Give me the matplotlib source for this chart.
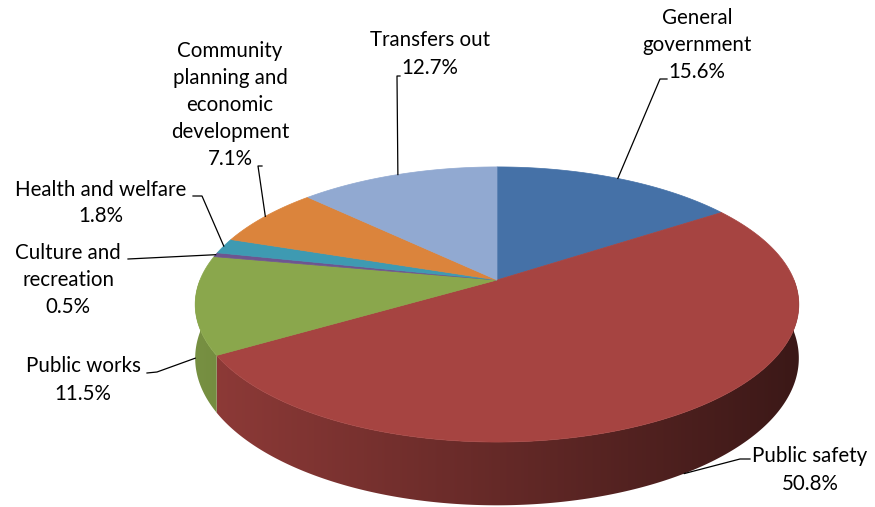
import numpy as np
import matplotlib.pyplot as plt
from matplotlib.patches import Polygon
from matplotlib.colors import to_rgb

# ---- data ----
categories = ['General\ngovernment', 'Public safety', 'Public works',
              'Culture and\nrecreation', 'Health and welfare',
              'Community\nplanning and\neconomic\ndevelopment', 'Transfers out']
shares = [15.6, 50.8, 11.5, 0.5, 1.8, 7.1, 12.7]
colors = ['#4571A7', '#A64441', '#8AA74C', '#6E5590', '#3E9AB2', '#DB843C', '#91A9D1']

# ---- layout (pixel space of the 875x507 canvas) ----
label_pos = [(697, 45), (810, 470), (83, 380), (68, 280), (101, 203), (230, 105), (430, 54)]
leader_start = [[(667, 79), (660, 79)], [(750, 459), (740, 459)], [(147, 373), (157, 372)],
                [(128, 259)], [(193, 196), (202, 196)], [(262, 166), (258, 166)],
                [(400, 76), (397, 76)]]
anchor_depth = [0, 1.0, 1.0, 0, 0, 0, 0]

CX, CY, RX, RY, K, H = 497, 280, 297, 133.2, 0.178, 52
LINE_STEP = 27


def proj(theta, d=0.0):
    # fake perspective: far side of the disc is drawn smaller
    t = np.radians(theta)
    s = 1 / (1 + K * np.sin(t))
    return CX + RX * np.cos(t) * s, CY - RY * np.sin(t) * s + H * d * s


fig = plt.figure(figsize=(8.75, 5.07), dpi=100)
ax = fig.add_axes([0, 0, 1, 1])
ax.set_xlim(0, 875)
ax.set_ylim(507, 0)
ax.axis('off')

# slice angles, clockwise from 12 o'clock
bounds = []
start = 90.0
for v in shares:
    end = start - v * 3.6
    bounds.append((start, end))
    start = end

# ---- side walls (front half only), shaded darker to the right ----
for (a0, a1), col in zip(bounds, colors):
    base = np.array(to_rgb(col))
    for shift in (-360, 0, 360):
        hi = min(a0 + shift, 0)
        lo = max(a1 + shift, -180)
        if lo >= hi:
            continue
        th = np.linspace(hi, lo, max(int((hi - lo) * 2), 2))
        top = [proj(t) for t in th]
        bot = [proj(t, 1) for t in th[::-1]]
        poly = Polygon(top + bot, closed=True, facecolor='none', edgecolor='none')
        ax.add_patch(poly)
        xs = np.array([p[0] for p in top + bot])
        ys = np.array([p[1] for p in top + bot])
        x0, x1 = xs.min() - 2, xs.max() + 2
        y0, y1 = ys.min() - 2, ys.max() + 2
        gx = np.linspace(x0, x1, 300)
        f = 0.86 - 0.5 * np.clip((gx - (CX - RX)) / (2 * RX), 0, 1)
        img = np.clip(base[None, None, :] * f[None, :, None], 0, 1)
        img = np.repeat(img, 2, axis=0)
        im = ax.imshow(img, extent=(x0, x1, y1, y0), aspect='auto',
                       interpolation='bilinear', zorder=1)
        im.set_clip_path(poly)

ax.set_xlim(0, 875)
ax.set_ylim(507, 0)

# ---- top faces ----
for (a0, a1), col in zip(bounds, colors):
    th = np.linspace(a0, a1, max(int(abs(a0 - a1) * 2), 3))
    pts = [(CX, CY)] + [proj(t) for t in th]
    ax.add_patch(Polygon(pts, closed=True, facecolor=col, edgecolor=col,
                         linewidth=0.5, zorder=2))

# ---- labels and leader lines ----
for i, (name, v) in enumerate(zip(categories, shares)):
    lines = name.split('\n') + [f'{v:.1f}%']
    x, y = label_pos[i]
    y0 = y - (len(lines) - 1) * LINE_STEP / 2
    for j, ln in enumerate(lines):
        ax.text(x, y0 + j * LINE_STEP, ln, ha='center', va='center',
                fontsize=14.8, family='Lato', color='black', zorder=4)
    a0, a1 = bounds[i]
    mid = (a0 + a1) / 2
    ax_, ay_ = proj(mid, anchor_depth[i])
    pts = leader_start[i] + [(ax_, ay_)]
    ax.plot([p[0] for p in pts], [p[1] for p in pts], color='black', lw=0.9, zorder=3)

plt.savefig('out.png', dpi=100)
